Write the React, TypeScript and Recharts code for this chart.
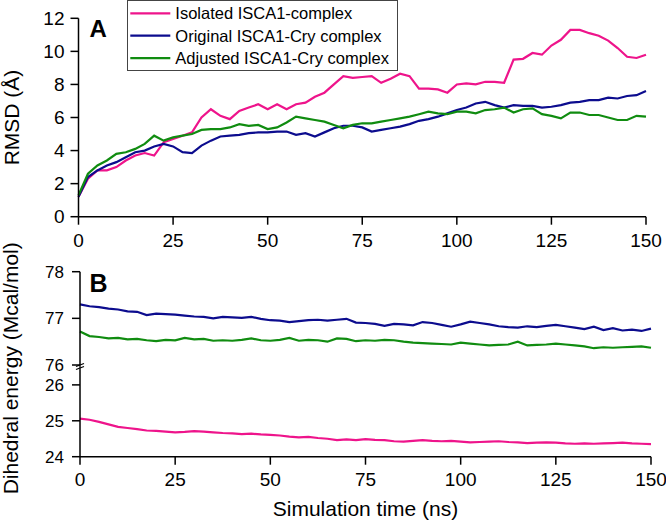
import React from 'react';
import { LineChart, Line, XAxis, YAxis, Legend } from 'recharts';

const timeNs = [
  0, 2.5, 5, 7.5, 10, 12.5, 15, 17.5, 20, 22.5,
  25, 27.5, 30, 32.5, 35, 37.5, 40, 42.5, 45, 47.5,
  50, 52.5, 55, 57.5, 60, 62.5, 65, 67.5, 70, 72.5,
  75, 77.5, 80, 82.5, 85, 87.5, 90, 92.5, 95, 97.5,
  100, 102.5, 105, 107.5, 110, 112.5, 115, 117.5, 120, 122.5,
  125, 127.5, 130, 132.5, 135, 137.5, 140, 142.5, 145, 147.5,
  150,
];

const rmsdIsolated = [
  1.2, 2.3, 2.8, 2.8, 3.0, 3.4, 3.7, 3.85, 3.7, 4.5,
  4.7, 4.9, 5.1, 6.0, 6.5, 6.1, 5.9, 6.4, 6.6, 6.8,
  6.5, 6.8, 6.5, 6.8, 6.9, 7.25, 7.5, 8.0, 8.5, 8.4,
  8.45, 8.5, 8.1, 8.35, 8.65, 8.5, 7.75, 7.75, 7.7, 7.5,
  8.0, 8.06, 8.0, 8.16, 8.16, 8.1, 9.5, 9.55, 9.9, 9.8,
  10.35, 10.7, 11.3, 11.3, 11.1, 10.95, 10.65, 10.2, 9.67, 9.6,
  9.8,
];

const rmsdOriginal = [
  1.2, 2.4, 2.8, 3.1, 3.3, 3.6, 3.9, 4.0, 4.25, 4.4,
  4.25, 3.9, 3.85, 4.3, 4.6, 4.85, 4.9, 4.95, 5.05, 5.1,
  5.1, 5.15, 5.15, 4.95, 5.05, 4.85, 5.1, 5.35, 5.5, 5.5,
  5.4, 5.15, 5.25, 5.35, 5.45, 5.6, 5.8, 5.9, 6.05, 6.25,
  6.45, 6.6, 6.85, 6.95, 6.75, 6.6, 6.75, 6.7, 6.7, 6.6,
  6.65, 6.75, 6.9, 6.95, 7.05, 7.05, 7.2, 7.15, 7.3, 7.35,
  7.6,
];

const rmsdAdjusted = [
  1.3, 2.6, 3.1, 3.4, 3.8, 3.9, 4.1, 4.4, 4.9, 4.6,
  4.8, 4.9, 5.0, 5.25, 5.3, 5.3, 5.4, 5.6, 5.5, 5.55,
  5.3, 5.4, 5.7, 6.05, 5.95, 5.85, 5.75, 5.55, 5.35, 5.55,
  5.65, 5.65, 5.75, 5.85, 5.95, 6.05, 6.2, 6.35, 6.25, 6.2,
  6.35, 6.35, 6.25, 6.45, 6.5, 6.6, 6.3, 6.5, 6.55, 6.2,
  6.1, 5.95, 6.3, 6.3, 6.15, 6.15, 6.0, 5.85, 5.85, 6.1,
  6.05,
];

const dihedralIsolated = [
  25.06, 25.03, 24.97, 24.90, 24.83, 24.80, 24.77, 24.73, 24.72, 24.70,
  24.68, 24.69, 24.71, 24.70, 24.68, 24.66, 24.65, 24.63, 24.64, 24.62,
  24.61, 24.59, 24.56, 24.54, 24.55, 24.52, 24.50, 24.46, 24.48, 24.46,
  24.49, 24.47, 24.46, 24.43, 24.42, 24.44, 24.46, 24.44, 24.43, 24.44,
  24.42, 24.40, 24.41, 24.42, 24.43, 24.41, 24.40, 24.38, 24.39, 24.40,
  24.39, 24.37, 24.36, 24.37, 24.36, 24.37, 24.38, 24.39, 24.37, 24.36,
  24.35,
];

const dihedralOriginal = [
  77.30, 77.26, 77.24, 77.21, 77.19, 77.15, 77.14, 77.07, 77.10, 77.09,
  77.08, 77.06, 77.04, 77.03, 77.00, 77.03, 77.02, 77.01, 77.03, 76.99,
  76.96, 76.95, 76.92, 76.94, 76.96, 76.97, 76.95, 76.97, 76.99, 76.91,
  76.90, 76.88, 76.84, 76.88, 76.87, 76.85, 76.92, 76.90, 76.86, 76.82,
  76.87, 76.93, 76.90, 76.87, 76.83, 76.81, 76.80, 76.83, 76.81, 76.84,
  76.86, 76.83, 76.80, 76.77, 76.82, 76.75, 76.79, 76.74, 76.76, 76.73,
  76.78,
];

const dihedralAdjusted = [
  76.72, 76.62, 76.60, 76.57, 76.58, 76.55, 76.56, 76.53, 76.51, 76.54,
  76.53, 76.58, 76.55, 76.56, 76.52, 76.53, 76.52, 76.54, 76.57, 76.53,
  76.52, 76.54, 76.58, 76.52, 76.54, 76.53, 76.50, 76.57, 76.56, 76.51,
  76.53, 76.52, 76.54, 76.53, 76.50, 76.48, 76.47, 76.46, 76.45, 76.44,
  76.48, 76.46, 76.44, 76.42, 76.43, 76.44, 76.50, 76.42, 76.43, 76.44,
  76.46, 76.44, 76.42, 76.40, 76.36, 76.38, 76.37, 76.38, 76.39, 76.40,
  76.37,
];

const xTicks = [0, 25, 50, 75, 100, 125, 150];
const rmsdTicks = [0, 2, 4, 6, 8, 10, 12];
const upperTicks = [76, 77, 78];
const lowerTicks = [24, 25, 26];
const seriesNames = ['Isolated ISCA1-complex', 'Original ISCA1-Cry complex', 'Adjusted ISCA1-Cry complex'];
const seriesColors = ['#EE148B', '#0C0C8E', '#108C10'];

const FONT = "'Liberation Sans', Arial, Helvetica, sans-serif";
const W = 666;
const H = 524;
const LW = 2.2;

const axisStyle = { stroke: '#000', strokeWidth: 1.5 };

const renderLegend = () => (
  <div
    style={{
      width: 271,
      height: 71,
      border: '1px solid #444',
      background: '#fff',
      boxSizing: 'border-box',
      fontFamily: FONT,
    }}
  >
    <svg width={269} height={69} style={{ display: 'block' }}>
      {seriesNames.map((n, i) => (
        <g key={n}>
          <line x1={2.3} x2={42.3} y1={12.3 + i * 22.4} y2={12.3 + i * 22.4} stroke={seriesColors[i]} strokeWidth={LW} />
          <text x={47.3} y={12.3 + i * 22.4} dy="0.355em" fontSize={16.5} fill="#000">
            {n}
          </text>
        </g>
      ))}
    </svg>
  </div>
);

const UpperTick = (p: any) => {
  const { x, y, payload } = p;
  const ax = x + 16;
  return (
    <g>
      <text x={x} y={y} dy="0.355em" textAnchor="end" fontSize={17} fill="#000">
        {payload.value}
      </text>
      {payload.value === 76 ? (
        <g stroke="#000" strokeWidth={1.3}>
          <line x1={ax} y1={y} x2={ax} y2={y + 5} />
          <line x1={ax - 4} y1={y + 1.5} x2={ax + 4} y2={y - 1.5} />
          <line x1={ax - 4} y1={y + 4.5} x2={ax + 4} y2={y + 1.5} />
        </g>
      ) : null}
    </g>
  );
};

const rotatedTitle = (text: string, cx: number, cy: number) => (
  <text
    x={cx}
    y={cy}
    transform={`rotate(-90 ${cx} ${cy})`}
    textAnchor="middle"
    dy="0.355em"
    fontSize={21}
    fill="#000"
  >
    {text}
  </text>
);

export default function App() {
  const rmsdData = timeNs.map((t, i) => ({
    t,
    iso: rmsdIsolated[i],
    orig: rmsdOriginal[i],
    adj: rmsdAdjusted[i],
  }));
  const dihData = timeNs.map((t, i) => ({
    t,
    iso: dihedralIsolated[i],
    orig: dihedralOriginal[i],
    adj: dihedralAdjusted[i],
  }));

  const aTop = 18.3;
  const aBottom = 216.7;
  const upTop = 271.7;
  const upBottom = 365;
  const lowTop = 369.8;
  const lowBottom = 456.7;

  return (
    <div style={{ position: 'absolute', left: 0, top: 0, width: W, height: H, fontFamily: FONT, background: '#fff' }}>
      {/* Panel A */}
      <div style={{ position: 'absolute', left: 0, top: 0 }}>
        <LineChart width={W} height={H} data={rmsdData} margin={{ top: aTop, right: 20, bottom: H - aBottom - 30, left: 0 }}>
          <XAxis
            dataKey="t"
            type="number"
            domain={[0, 150]}
            ticks={xTicks}
            interval={0}
            height={30}
            tickSize={8}
            tickMargin={9}
            axisLine={axisStyle}
            tickLine={axisStyle}
            tick={{ fontSize: 19, fill: '#000' }}
          />
          <YAxis
            type="number"
            domain={[0, 12]}
            ticks={rmsdTicks}
            interval={0}
            width={78.5}
            tickSize={8}
            tickMargin={6}
            axisLine={axisStyle}
            tickLine={axisStyle}
            tick={{ fontSize: 19, fill: '#000' }}
            label={(props: any) => {
              const vb = props.viewBox || { x: 0, y: aTop, height: aBottom - aTop };
              return rotatedTitle('RMSD (Å)', vb.x + 12, vb.y + vb.height / 2);
            }}
          />
          <Legend
            layout="vertical"
            align="center"
            verticalAlign="middle"
            wrapperStyle={{ top: 0, left: 126.7, width: 271, height: 71 }}
            content={renderLegend}
          />
          <Line dataKey="iso" stroke={seriesColors[0]} strokeWidth={LW} dot={false} isAnimationActive={false} />
          <Line dataKey="orig" stroke={seriesColors[1]} strokeWidth={LW} dot={false} isAnimationActive={false} />
          <Line dataKey="adj" stroke={seriesColors[2]} strokeWidth={LW} dot={false} isAnimationActive={false} />
        </LineChart>
      </div>

      {/* Panel B upper (76-78) */}
      <div style={{ position: 'absolute', left: 0, top: 0 }}>
        <LineChart width={W} height={H} data={dihData} margin={{ top: upTop, right: 15, bottom: H - upBottom, left: 0 }}>
          <XAxis dataKey="t" type="number" domain={[0, 150]} hide />
          <YAxis
            type="number"
            domain={[76, 78]}
            allowDataOverflow
            ticks={upperTicks}
            interval={0}
            width={80}
            tickSize={8}
            tickMargin={8}
            axisLine={axisStyle}
            tickLine={axisStyle}
            tick={<UpperTick />}
          />
          <Line dataKey="orig" stroke={seriesColors[1]} strokeWidth={LW} dot={false} isAnimationActive={false} />
          <Line dataKey="adj" stroke={seriesColors[2]} strokeWidth={LW} dot={false} isAnimationActive={false} />
        </LineChart>
      </div>

      {/* Panel B lower (24-26) */}
      <div style={{ position: 'absolute', left: 0, top: 0 }}>
        <LineChart width={W} height={H} data={dihData} margin={{ top: lowTop, right: 15, bottom: H - lowBottom - 60, left: 0 }}>
          <XAxis
            dataKey="t"
            type="number"
            domain={[0, 150]}
            ticks={xTicks}
            interval={0}
            height={60}
            tickSize={8}
            tickMargin={8}
            axisLine={axisStyle}
            tickLine={axisStyle}
            tick={{ fontSize: 19, fill: '#000' }}
            label={{ value: 'Simulation time (ns)', position: 'insideBottom', offset: 1, fontSize: 21, fill: '#000' }}
          />
          <YAxis
            type="number"
            domain={[24, 26.42]}
            allowDataOverflow
            ticks={lowerTicks}
            interval={0}
            width={80}
            tickSize={8}
            tickMargin={8}
            axisLine={axisStyle}
            tickLine={axisStyle}
            tick={{ fontSize: 17, fill: '#000' }}
            label={(props: any) => {
              const vb = props.viewBox || { x: 0, y: lowTop };
              return rotatedTitle('Dihedral energy (Mcal/mol)', vb.x + 11, vb.y - 1.5);
            }}
          />
          <Line dataKey="iso" stroke={seriesColors[0]} strokeWidth={LW} dot={false} isAnimationActive={false} />
        </LineChart>
      </div>

      {/* Panel letters */}
      <svg width={W} height={H} style={{ position: 'absolute', left: 0, top: 0, pointerEvents: 'none' }}>
        <text x={89.5} y={36.7} fontSize={24} fontWeight="bold" fill="#000">A</text>
        <text x={89.5} y={291.7} fontSize={25} fontWeight="bold" fill="#000">B</text>
      </svg>
    </div>
  );
}
